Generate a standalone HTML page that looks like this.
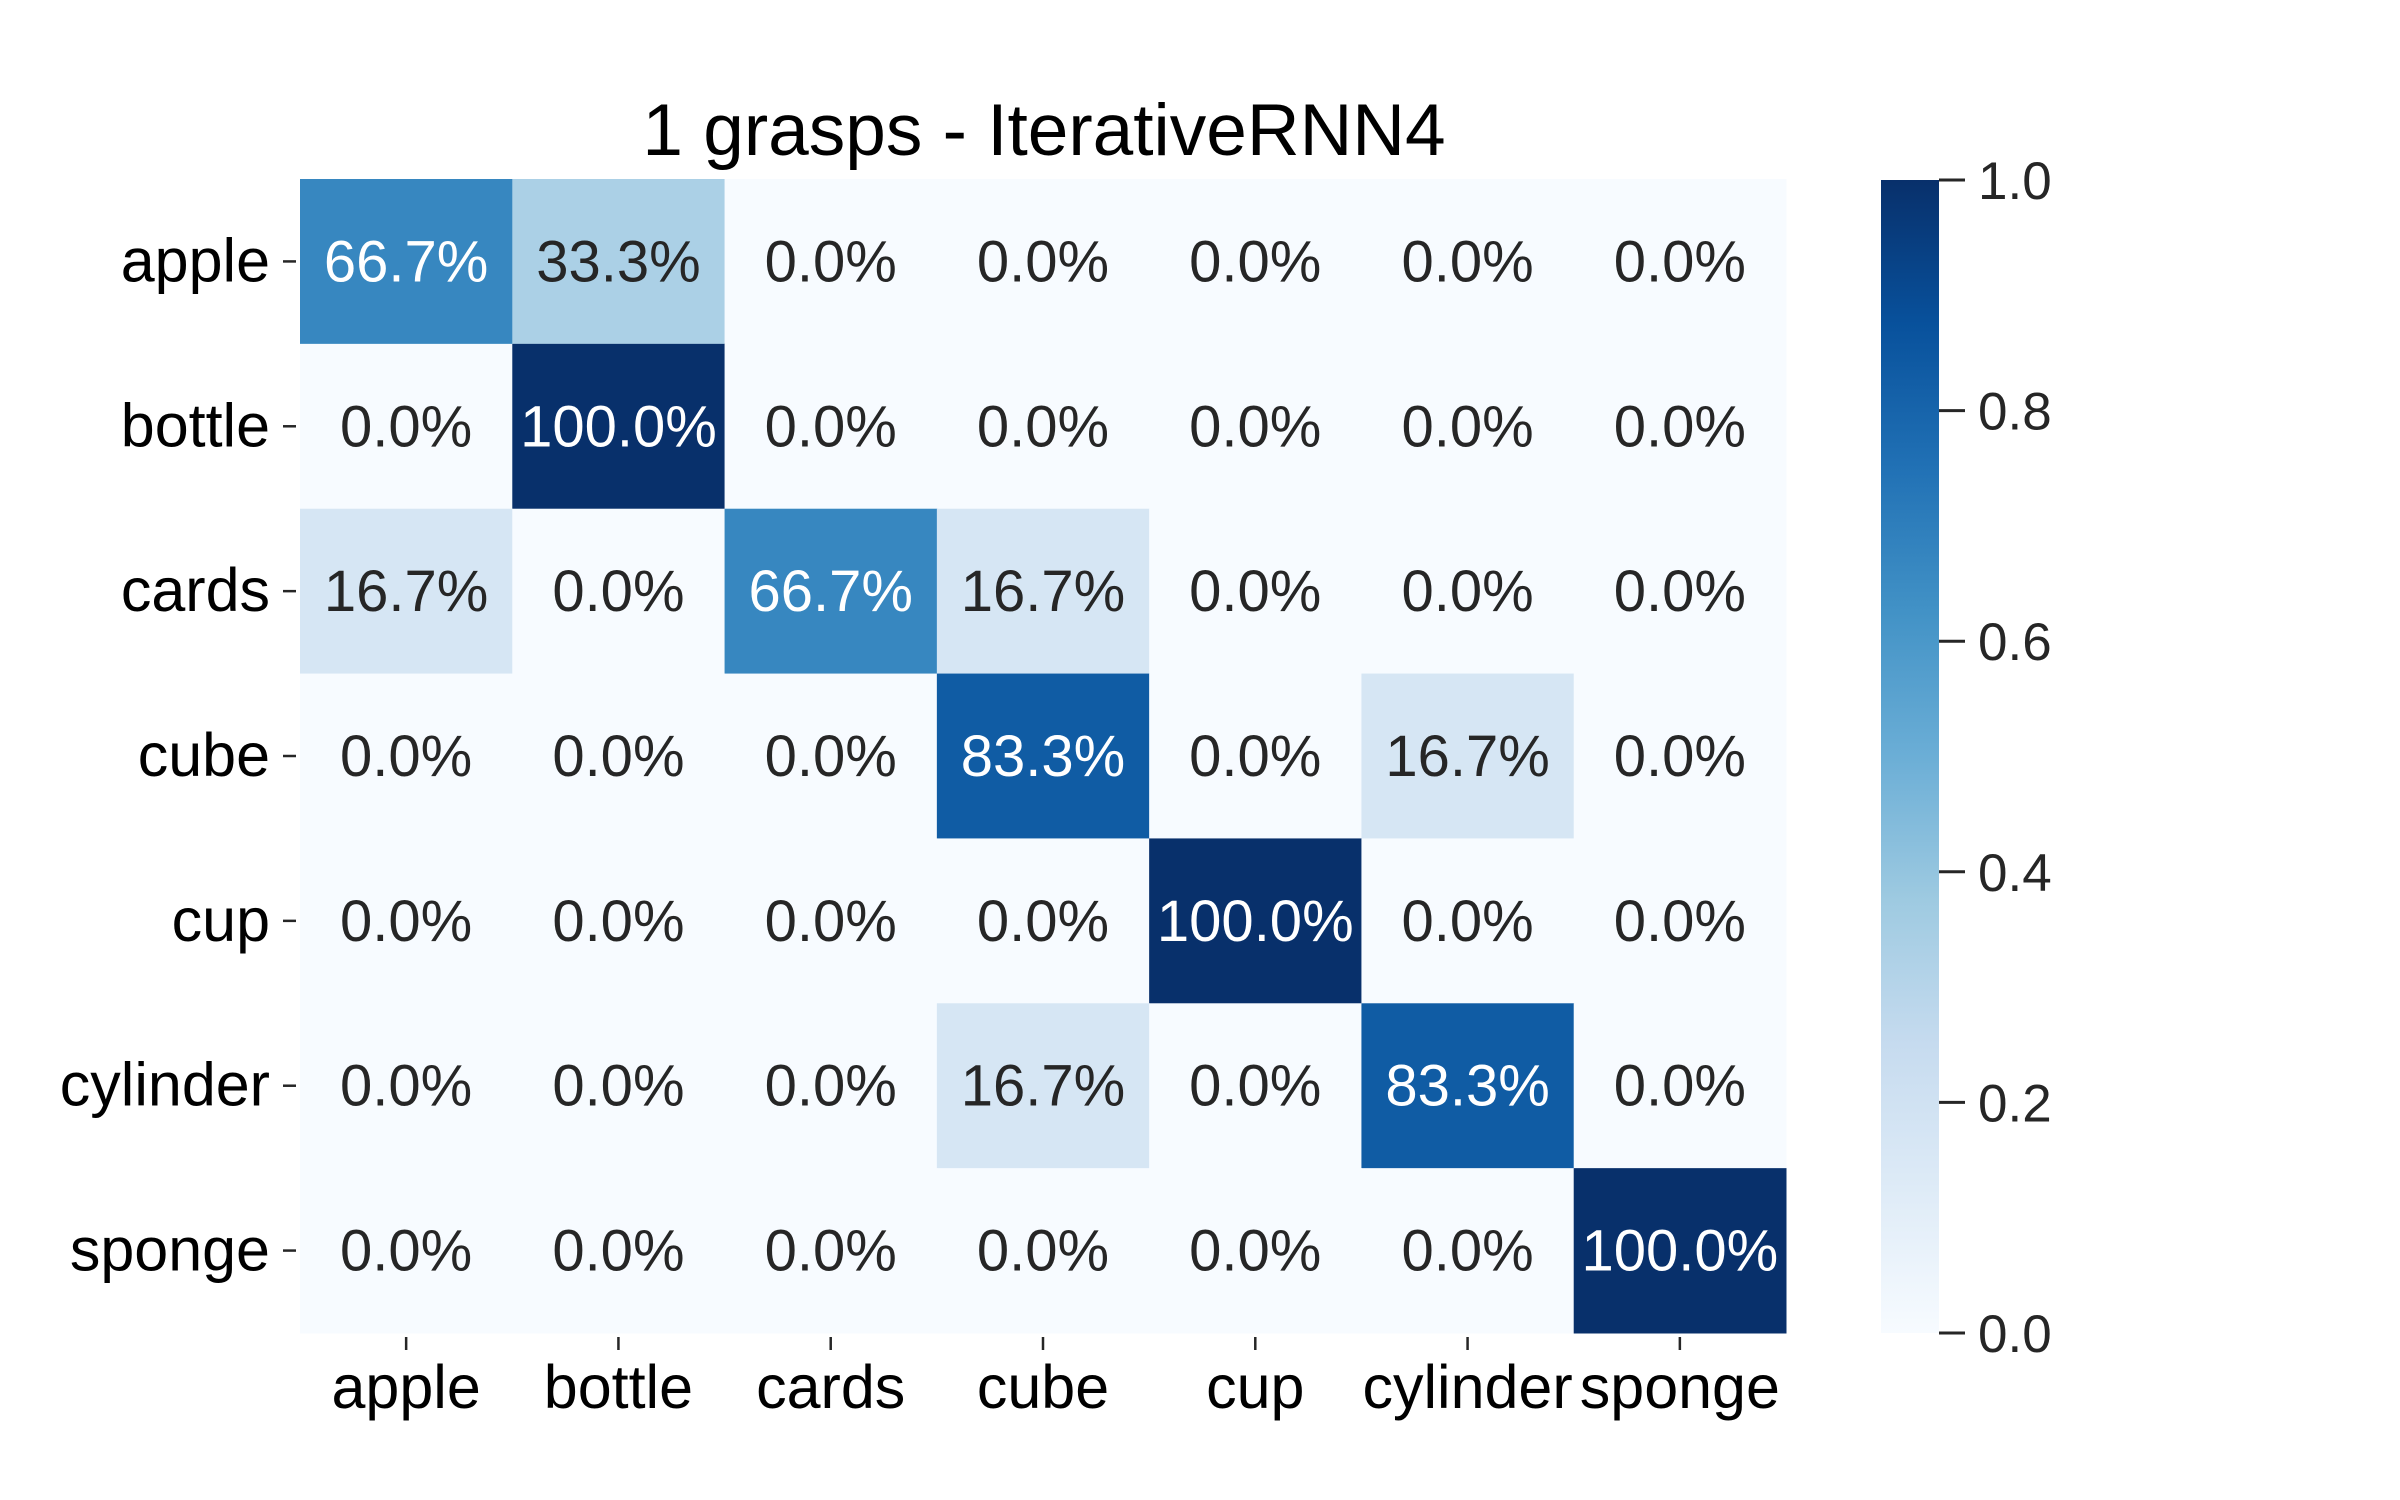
<!DOCTYPE html>
<html><head><meta charset="utf-8"><style>
html,body{margin:0;padding:0;background:#fff;}
svg{display:block;font-family:"Liberation Sans",Arial,sans-serif;}
</style></head><body>
<svg id="chart" width="2400" height="1500" viewBox="0 0 2400 1500">
<defs>
<linearGradient id="cbgrad" x1="0" y1="1" x2="0" y2="0">
<stop offset="0" stop-color="#f7fbff"/><stop offset="0.125" stop-color="#deebf7"/>
<stop offset="0.25" stop-color="#c6dbef"/><stop offset="0.375" stop-color="#9ecae1"/>
<stop offset="0.5" stop-color="#6baed6"/><stop offset="0.625" stop-color="#4292c6"/>
<stop offset="0.75" stop-color="#2171b5"/><stop offset="0.875" stop-color="#08519c"/>
<stop offset="1" stop-color="#08306b"/></linearGradient>
</defs>
<text x="1044" y="155" font-size="73" text-anchor="middle" fill="#000">1 grasps - IterativeRNN4</text>
<g id="cells"></g>
<g id="yaxis"></g>
<g id="xaxis"></g>
<rect x="1881" y="180" width="58" height="1153" fill="url(#cbgrad)"/>
<g id="cbticks"></g>
</svg>
<script>
const classes = ["apple","bottle","cards","cube","cup","cylinder","sponge"];
const matrix = [
[0.667,0.333,0,0,0,0,0],
[0,1,0,0,0,0,0],
[0.167,0,0.667,0.167,0,0,0],
[0,0,0,0.833,0,0.167,0],
[0,0,0,0,1,0,0],
[0,0,0,0.167,0,0.833,0],
[0,0,0,0,0,0,1]];
const cbTicks = [0,0.2,0.4,0.6,0.8,1.0];

const X0=300,X1=1786,Y0=179,Y1=1333;
const cw=(X1-X0)/classes.length, ch=(Y1-Y0)/classes.length;
const xs=i=>X0+i*cw, ys=i=>Y0+i*ch;
const stops=[[0,[247,251,255]],[0.125,[222,235,247]],[0.25,[198,219,239]],[0.375,[158,202,225]],[0.5,[107,174,214]],[0.625,[66,146,198]],[0.75,[33,113,181]],[0.875,[8,81,156]],[1,[8,48,107]]];
function color(v){for(let i=1;i<stops.length;i++){if(v<=stops[i][0]){const a=stops[i-1],b=stops[i],t=(v-a[0])/(b[0]-a[0]);return 'rgb('+a[1].map((c,k)=>Math.round(c+(b[1][k]-c)*t)).join(',')+')';}}return 'rgb(8,48,107)';}
const NS="http://www.w3.org/2000/svg";
function mk(tag,attrs,parent){const e=document.createElementNS(NS,tag);for(const k in attrs)e.setAttribute(k,attrs[k]);parent.appendChild(e);return e;}
const cells=document.getElementById('cells');
matrix.forEach((row,r)=>row.forEach((v,c)=>{
  const rect=mk('rect',{x:xs(c),y:ys(r),width:cw+0.5,height:ch+0.5,fill:color(v)},cells);
  
  
  const t=mk('text',{x:xs(c)+cw/2,y:ys(r)+ch/2+20,'font-size':58,'text-anchor':'middle',fill:v>0.5?'#ffffff':'#262626'},cells);
  t.textContent=(v*100).toFixed(1)+'%';
  
  
}));
const ya=document.getElementById('yaxis'), xa=document.getElementById('xaxis');
classes.forEach((n,i)=>{
  const y=ys(i)+ch/2;
  mk('line',{x1:283,x2:296,y1:y,y2:y,stroke:'#262626','stroke-width':2.5},ya);
  const t=mk('text',{x:270,y:y+20,'font-size':61,'text-anchor':'end',fill:'#000'},ya);
  t.textContent=n;
  
  
  const x=xs(i)+cw/2;
  mk('line',{x1:x,x2:x,y1:1337,y2:1350,stroke:'#262626','stroke-width':2.5},xa);
  const u=mk('text',{x:x,y:1408,'font-size':61,'text-anchor':'middle',fill:'#000'},xa);
  u.textContent=n;
  
  
});
const cb=document.getElementById('cbticks');
cbTicks.forEach(v=>{
  const y=Y1-(Y1-180)*v;
  mk('line',{x1:1939,x2:1965,y1:y,y2:y,stroke:'#262626','stroke-width':3},cb);
  const t=mk('text',{x:1978,y:y+19,'font-size':53,fill:'#262626'},cb);
  t.textContent=v.toFixed(1);
  
  
});
</script>
</body></html>
